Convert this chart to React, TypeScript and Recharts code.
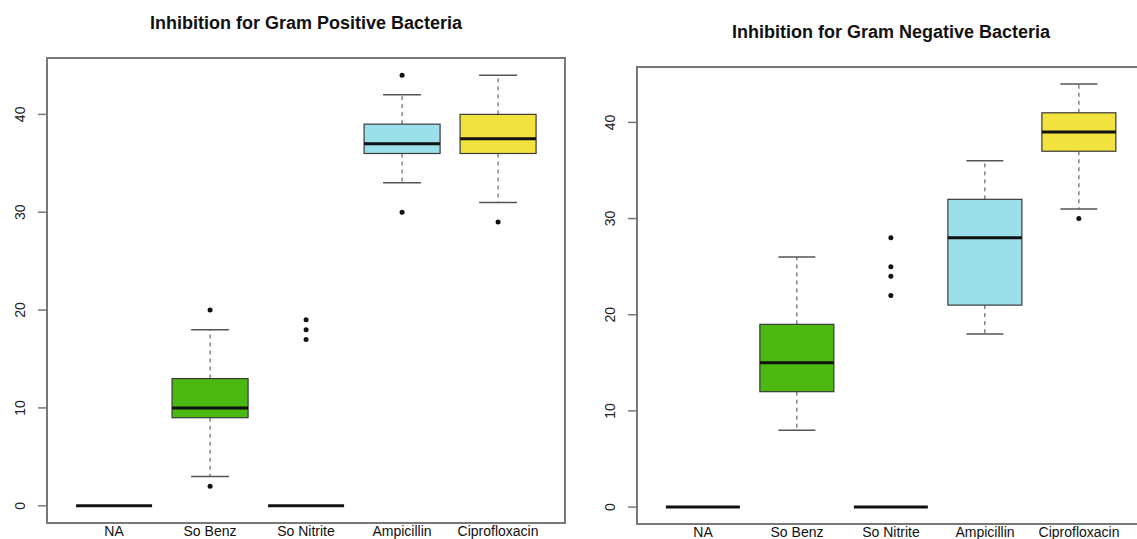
import React from 'react';
import { ComposedChart, Bar, XAxis, YAxis, ReferenceArea } from 'recharts';

const categories = ['NA', 'So Benz', 'So Nitrite', 'Ampicillin', 'Ciprofloxacin'];
const boxColors = ['#ffffff', '#4cb912', '#ffffff', '#9adfe9', '#f2e23e'];
const yTicks = [0, 10, 20, 30, 40];
const yDomain = [-1.76, 45.76];
const frameDomain = [0, categories.length - 1];

// Gram positive
const posLow = [0, 3, 0, 33, 31];
const posQ1 = [0, 9, 0, 36, 36];
const posMedian = [0, 10, 0, 37, 37.5];
const posQ3 = [0, 13, 0, 39, 40];
const posHigh = [0, 18, 0, 42, 44];
const posOutliers = [[], [2, 20], [17, 18, 19], [30, 44], [29]];

// Gram negative
const negLow = [0, 8, 0, 18, 31];
const negQ1 = [0, 12, 0, 21, 37];
const negMedian = [0, 15, 0, 28, 39];
const negQ3 = [0, 19, 0, 32, 41];
const negHigh = [0, 26, 0, 36, 44];
const negOutliers = [[], [], [22, 24, 25, 28], [], [30]];

const FONT = "'Liberation Sans', Arial, Helvetica, sans-serif";
const FRAME = '#787878';

function buildRows(low: number[], q1: number[], med: number[], q3: number[], high: number[], out: number[][]) {
    return categories.map((name, i) => ({
        name,
        low: low[i],
        q1: q1[i],
        med: med[i],
        q3: q3[i],
        high: high[i],
        outliers: out[i],
        fill: boxColors[i],
        // full extent of the data, so the bar geometry gives us the scale
        range: [Math.min(low[i], ...out[i]), Math.max(high[i], ...out[i])],
    }));
}

const posRows = buildRows(posLow, posQ1, posMedian, posQ3, posHigh, posOutliers);
const negRows = buildRows(negLow, negQ1, negMedian, negQ3, negHigh, negOutliers);

const BoxShape = (props: any) => {
    const { x, y, width, height, payload } = props;
    const [lo, hi] = payload.range;
    const py = (v: number) => (hi === lo ? y : y + ((hi - v) * height) / (hi - lo));
    const cx = x + width / 2;
    const cap = width / 4;
    const hasBox = payload.q3 > payload.q1;
    return (
        <g>
            {payload.high > payload.q3 && (
                <line x1={cx} x2={cx} y1={py(payload.q3)} y2={py(payload.high)} stroke="#444" strokeDasharray="4 4" />
            )}
            {payload.q1 > payload.low && (
                <line x1={cx} x2={cx} y1={py(payload.q1)} y2={py(payload.low)} stroke="#444" strokeDasharray="4 4" />
            )}
            {payload.high > payload.q3 && (
                <line x1={cx - cap} x2={cx + cap} y1={py(payload.high)} y2={py(payload.high)} stroke="#555" strokeWidth={1.5} />
            )}
            {payload.q1 > payload.low && (
                <line x1={cx - cap} x2={cx + cap} y1={py(payload.low)} y2={py(payload.low)} stroke="#555" strokeWidth={1.5} />
            )}
            {hasBox && (
                <rect
                    x={x}
                    y={py(payload.q3)}
                    width={width}
                    height={py(payload.q1) - py(payload.q3)}
                    fill={payload.fill}
                    stroke="#3a3a3a"
                    strokeWidth={1.2}
                />
            )}
            <line x1={x} x2={x + width} y1={py(payload.med)} y2={py(payload.med)} stroke="#111" strokeWidth={3} />
            {payload.outliers.map((v: number, i: number) => (
                <circle key={i} cx={cx} cy={py(v)} r={2.5} fill="#111" />
            ))}
        </g>
    );
};

const YTick = (props: any) => {
    const { x, y, payload } = props;
    return (
        <text x={x - 13} y={y} transform={`rotate(-90 ${x - 13} ${y})`} textAnchor="middle" fontSize={14} fill="#222" fontFamily={FONT}>
            {payload.value}
        </text>
    );
};

const XTick = (props: any) => {
    const { x, y, payload } = props;
    return (
        <text x={x} y={y + 13} textAnchor="middle" fontSize={14} fill="#111" fontFamily={FONT}>
            {payload.value}
        </text>
    );
};

function BoxPanel({ rows, title, left, width, top, axisWidth, xHeight, titleTop }: any) {
    const plotLeft = axisWidth;
    const plotWidth = width - axisWidth - 10;
    return (
        <div style={{ position: 'absolute', left, top: 0, width, height: 539 }}>
            <div
                style={{
                    position: 'absolute',
                    left: plotLeft,
                    width: plotWidth,
                    top: titleTop,
                    textAlign: 'center',
                    fontFamily: FONT,
                    fontWeight: 'bold',
                    fontSize: 18,
                    lineHeight: '18px',
                    color: '#111',
                    whiteSpace: 'nowrap',
                }}
            >
                {title}
            </div>
            <ComposedChart
                width={width}
                height={539}
                data={rows}
                margin={{ top, right: 10, bottom: 0, left: 0 }}
                barCategoryGap="10.5%"
            >
                <XAxis
                    dataKey="name"
                    type="category"
                    padding={{ left: 19, right: 19 }}
                    height={xHeight}
                    tickLine={false}
                    tickSize={0}
                    tickMargin={0}
                    interval={0}
                    axisLine={{ stroke: FRAME, strokeWidth: 2 }}
                    tick={<XTick />}
                />
                {/* hidden index axis, spans the whole plot width for the frame */}
                <XAxis xAxisId="frame" type="number" domain={frameDomain} hide allowDataOverflow />
                <YAxis
                    type="number"
                    domain={yDomain}
                    allowDataOverflow
                    ticks={yTicks}
                    width={axisWidth}
                    tickSize={9}
                    tickMargin={0}
                    tickLine={{ stroke: FRAME, strokeWidth: 1.5 }}
                    axisLine={{ stroke: FRAME, strokeWidth: 2 }}
                    tick={<YTick />}
                />
                <ReferenceArea
                    xAxisId="frame"
                    x1={frameDomain[0]}
                    x2={frameDomain[1]}
                    y1={yDomain[0]}
                    y2={yDomain[1]}
                    fill="none"
                    fillOpacity={0}
                    stroke={FRAME}
                    strokeWidth={2}
                    ifOverflow="visible"
                />
                <Bar dataKey="range" shape={<BoxShape />} isAnimationActive={false} />
            </ComposedChart>
        </div>
    );
}

export default function App() {
    return (
        <div style={{ position: 'absolute', left: 0, top: 0, width: 1137, height: 539, overflow: 'hidden', background: '#fff' }}>
            <BoxPanel
                rows={posRows}
                title="Inhibition for Gram Positive Bacteria"
                left={0}
                width={575}
                top={58}
                axisWidth={47}
                xHeight={16}
                titleTop={14}
            />
            <BoxPanel
                rows={negRows}
                title="Inhibition for Gram Negative Bacteria"
                left={575}
                width={580}
                top={67}
                axisWidth={62}
                xHeight={15}
                titleTop={23}
            />
        </div>
    );
}
